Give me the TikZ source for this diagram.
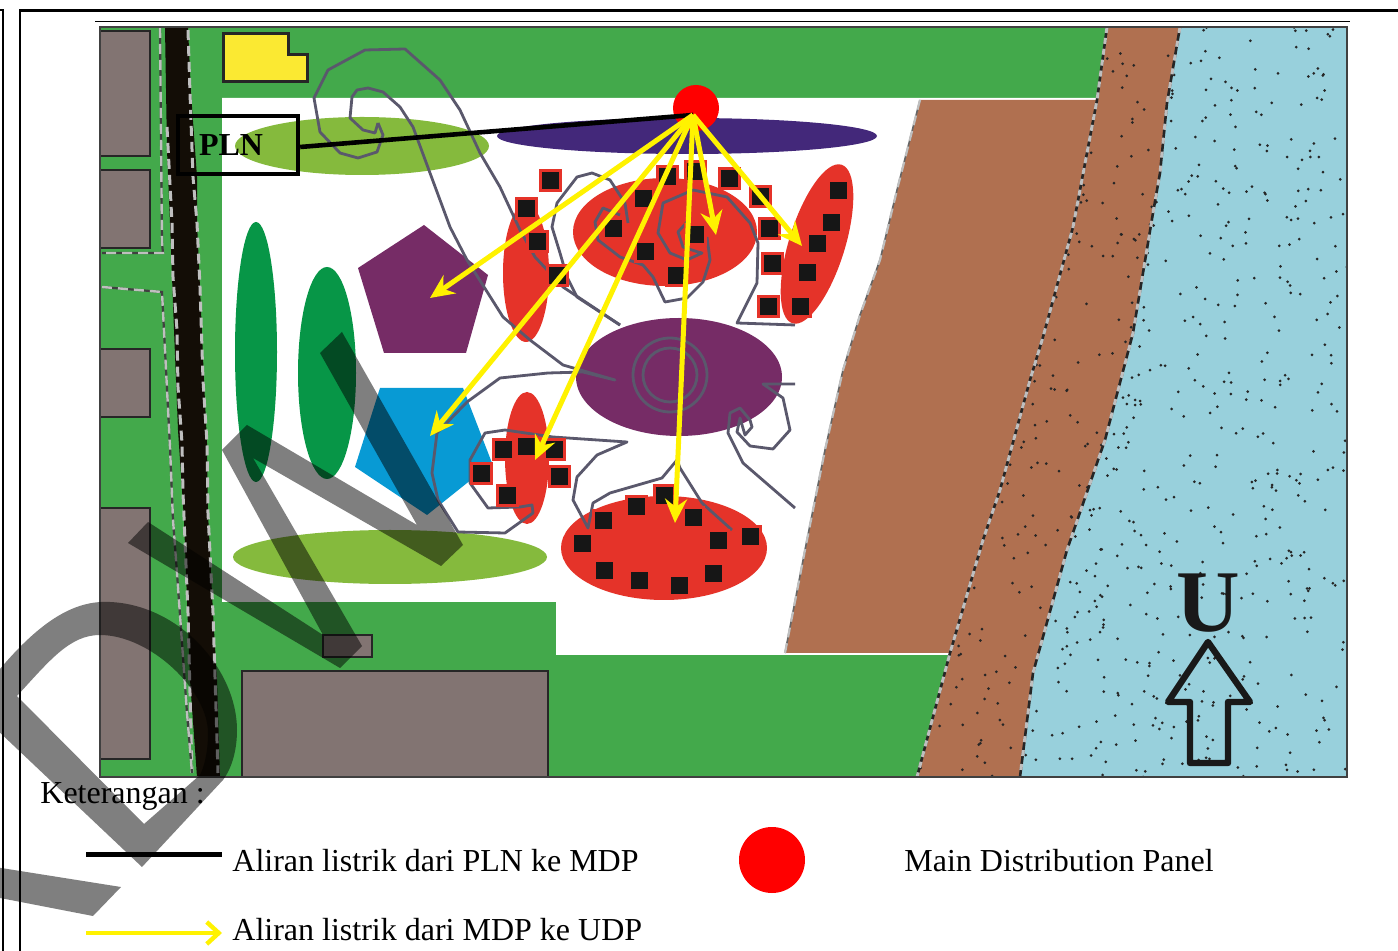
\documentclass[tikz,border=0pt]{standalone}
\usepackage{fontspec}
\setmainfont{Liberation Serif}
\usetikzlibrary{arrows.meta}
\definecolor{grass}{HTML}{43A94B}
\definecolor{lgreen}{HTML}{85BA3D}
\definecolor{dgreen}{HTML}{079647}
\definecolor{bldg}{HTML}{827472}
\definecolor{ylw}{HTML}{FBE932}
\definecolor{purp}{HTML}{762C66}
\definecolor{indigo}{HTML}{43287A}
\definecolor{cyanb}{HTML}{089AD4}
\definecolor{redz}{HTML}{E53329}
\definecolor{soil}{HTML}{B07050}
\definecolor{water}{HTML}{98D0DC}
\definecolor{contour}{HTML}{5A586C}
\definecolor{sq}{HTML}{161616}
\tikzset{
  bld/.style={fill=bldg,draw=black!85,line width=1pt},
  contourline/.style={draw=contour,line width=1.4pt,line join=round},
  yarrow/.style={draw=yellow,line width=2.5pt,-{Stealth[length=12pt,width=11pt,inset=4pt]}},
  udp/.style={fill=sq,draw=redz,line width=1.5pt,minimum size=10pt,inner sep=0pt,rectangle},
  edgeblack/.style={draw=black!85,line width=1.3pt},
  edgegrey/.style={draw=black!25,line width=1.5pt,dash pattern=on 5pt off 3pt},
  legendtext/.style={anchor=base west,inner sep=0pt,font=\fontsize{16}{19}\selectfont},
  wm/.style={fill=black,fill opacity=0.5,even odd rule}
}
\begin{document}
\begin{tikzpicture}[x=0.5pt,y=-0.5pt]
\useasboundingbox (0,0) rectangle (1398,951);
\fill[white] (0,0) rectangle (1398,951);
% frame
\draw[line width=1.4pt] (3,951) -- (3,10) -- (0,10);
\draw[line width=1.4pt] (20,951) -- (20,10.5) -- (1398,10.5);
\draw[line width=0.8pt] (95,21.5) -- (1350,21.5);
% site
\fill[grass] (100,27) rectangle (1110,777);
\fill[white] (222,98) -- (1100,98) -- (950,655) -- (556,655) -- (556,602) -- (222,602) -- cycle;
% brown lot
\fill[soil] (920,100) -- (1096,100) -- (1073,227) -- (1043,337) -- (1030,380) -- (1000,490) -- (983,540) -- (950,653) -- (785,653) -- (805,550) -- (825,450) -- (843,370) -- (860,315) -- (880,260) -- (897,190) -- cycle;
\draw[edgeblack,draw=black!60,line width=0.8pt] (920,100) -- (897,190) -- (880,260) -- (860,315) -- (843,370) -- (825,450) -- (805,550) -- (785,653);
\draw[edgegrey,line width=1.1pt] (920,100) -- (897,190) -- (880,260) -- (860,315) -- (843,370) -- (825,450) -- (805,550) -- (785,653);
% strip and water
\fill[soil] (1107,27) -- (1180,27) -- (1167,103) -- (1160,173) -- (1153,213) -- (1133,333) -- (1105,440) -- (1067,550) -- (1033,673) -- (1020,777) -- (917,777) -- (950,653) -- (983,540) -- (1000,490) -- (1030,380) -- (1043,337) -- (1073,227) -- (1097,100) -- cycle;
\fill[water] (1180,27) -- (1347,27) -- (1347,777) -- (1020,777) -- (1033,673) -- (1067,550) -- (1105,440) -- (1133,333) -- (1153,213) -- (1160,173) -- (1167,103) -- cycle;
\pgfmathsetseed{4711}
\begin{scope}
\clip (1107,27) -- (1180,27) -- (1167,103) -- (1160,173) -- (1153,213) -- (1133,333) -- (1105,440) -- (1067,550) -- (1033,673) -- (1020,777) -- (917,777) -- (950,653) -- (983,540) -- (1000,490) -- (1030,380) -- (1043,337) -- (1073,227) -- (1097,100) -- cycle;
\foreach \i in {1,...,500}{
  \pgfmathsetmacro\xx{910+280*rnd}
  \pgfmathsetmacro\yy{27+750*rnd}
  \fill[black!85] (\xx,\yy) circle[radius=1.5];
}
\end{scope}
\begin{scope}
\clip (1180,27) -- (1347,27) -- (1347,777) -- (1020,777) -- (1033,673) -- (1067,550) -- (1105,440) -- (1133,333) -- (1153,213) -- (1160,173) -- (1167,103) -- cycle;
\foreach \i in {1,...,620}{
  \pgfmathsetmacro\xx{1020+327*rnd}
  \pgfmathsetmacro\yy{27+750*rnd}
  \fill[black!85] (\xx,\yy) circle[radius=1.5];
}
\end{scope}
\draw[edgeblack] (1107,27) -- (1097,100) -- (1073,227) -- (1043,337) -- (1030,380) -- (1000,490) -- (983,540) -- (950,653) -- (917,777);
\draw[edgegrey,dash pattern=on 3pt off 2.5pt] (1107,27) -- (1097,100) -- (1073,227) -- (1043,337) -- (1030,380) -- (1000,490) -- (983,540) -- (950,653) -- (917,777);
\draw[edgeblack] (1180,27) -- (1167,103) -- (1160,173) -- (1153,213) -- (1133,333) -- (1105,440) -- (1067,550) -- (1033,673) -- (1020,777);
\draw[edgegrey,dash pattern=on 3pt off 4pt] (1180,27) -- (1167,103) -- (1160,173) -- (1153,213) -- (1133,333) -- (1105,440) -- (1067,550) -- (1033,673) -- (1020,777);
% road
\fill[black!90!brown] (165,27) -- (188,27) -- (191,93) -- (197,177) -- (197,223) -- (200,287) -- (204,380) -- (207,443) -- (208,513) -- (213,613) -- (217,680) -- (220,777) -- (197,777) -- (190,680) -- (184,520) -- (178,430) -- (174,330) -- (170,223) -- (167,150) -- cycle;
\draw[edgegrey] (188,30) -- (190,93) -- (193,177) -- (197,223) -- (200,287) -- (203,380) -- (207,443) -- (208,513) -- (213,613) -- (218,773);
\draw[edgegrey] (167,127) -- (172,223) -- (173,277) -- (177,330) -- (178,387) -- (182,443) -- (183,493) -- (188,613) -- (192,773);
\draw[edgeblack,draw=black!75,line width=1.1pt] (160,28) -- (162,243) -- (163,253) -- (102,253);
\draw[edgegrey,line width=1.2pt] (160,28) -- (162,243) -- (163,253) -- (102,253);
\draw[edgeblack,draw=black!75,line width=1.1pt] (102,287) -- (162,292) -- (170,447) -- (173,520) -- (177,573) -- (187,713) -- (192,773);
\draw[edgegrey,line width=1.2pt] (102,287) -- (162,292) -- (170,447) -- (173,520) -- (177,573) -- (187,713) -- (192,773);
% buildings
\draw[bld] (100,31) rectangle (150,156);
\draw[bld] (100,170) rectangle (150,248);
\draw[bld] (100,349) rectangle (150,417);
\draw[bld] (100,508) rectangle (150,759);
\draw[bld] (242,671) rectangle (548,777);
\draw[bld] (323,635) rectangle (372,657);
\draw[fill=ylw,draw=black!85,line width=1.5pt] (223,34) -- (288,34) -- (288,55) -- (307,55) -- (307,82) -- (223,82) -- cycle;
% map border
\draw[black!75,line width=0.8pt] (100,27) rectangle (1347,777);
% zones
\fill[lgreen] (362,146) ellipse[x radius=127,y radius=29];
\fill[lgreen] (390,557) ellipse[x radius=157,y radius=27];
\fill[indigo] (687,136) ellipse[x radius=190,y radius=18];
\fill[dgreen] (256,352) ellipse[x radius=21,y radius=130];
\fill[dgreen] (327,373) ellipse[x radius=29,y radius=106];
\fill[purp] (424,225) -- (488,275) -- (466,353) -- (384,353) -- (358,268) -- cycle;
\fill[cyanb] (380,388) -- (463,388) -- (492,463) -- (427,515) -- (355,467) -- cycle;
\fill[purp] (679,377) ellipse[x radius=103,y radius=59];
\fill[redz] (665,232) ellipse[x radius=92,y radius=54];
\fill[redz] (526,273) ellipse[x radius=23,y radius=69];
\fill[redz] (527,458) ellipse[x radius=22,y radius=66];
\fill[redz] (664,548) ellipse[x radius=103,y radius=52];
\begin{scope}[shift={(817,244)},rotate=72.8]
\fill[redz] (0,0) ellipse[x radius=83,y radius=28];
\end{scope}
% contours
\draw[contourline] (378,123) -- (383,135) -- (377,152) -- (358,158) -- (340,153) -- (320,132) -- (314,98) -- (328,70) -- (365,50) -- (405,49) -- (440,80) -- (460,110) -- (480,153) -- (500,187) -- (520,230) -- (535,257) -- (563,287) -- (620,325);
\draw[contourline] (378,123) -- (375,133) -- (363,130) -- (350,118) -- (352,97) -- (357,90) -- (368,88) -- (383,92) -- (400,107) -- (413,127) -- (430,173) -- (450,227) -- (467,260) -- (503,317) -- (530,340) -- (563,365) -- (615,380) -- (583,372) -- (548,373) -- (500,378) -- (467,402) -- (437,433) -- (432,473) -- (438,500) -- (458,532) -- (505,533) -- (533,513) -- (532,505) -- (520,507) -- (488,508) -- (470,483) -- (470,460) -- (485,433) -- (505,430) -- (553,437) -- (627,442) -- (597,455) -- (577,477) -- (573,500) -- (588,528) -- (593,503) -- (610,493) -- (662,478) -- (677,460) -- (680,468) -- (702,503) -- (732,530);
\draw[contourline] (628,223) -- (625,203) -- (610,180) -- (592,173) -- (577,177) -- (557,203) -- (552,227) -- (560,253) -- (567,277) -- (577,297) -- (620,325);
\draw[contourline] (620,215) -- (603,208) -- (595,222) -- (598,240) -- (620,257) -- (643,265) -- (653,277) -- (665,302) -- (687,298) -- (703,282) -- (710,260) -- (707,237);
\draw[contourline] (687,222) -- (678,232) -- (683,247) -- (698,252) -- (702,253) -- (687,260) -- (670,253) -- (658,233) -- (663,203) -- (693,190) -- (727,197) -- (750,223) -- (758,243) -- (757,283) -- (737,323) -- (795,325);
\draw[contourline] (795,384) -- (763,384) -- (783,398) -- (790,430) -- (773,449) -- (750,446) -- (737,432) -- (740,418) -- (745,435) -- (752,427) -- (750,420) -- (740,408) -- (730,413) -- (728,433) -- (743,463) -- (795,508);
\draw[contourline] (670,375) circle[radius=37];
\draw[contourline] (670,375) circle[radius=27];
% UDP squares
\foreach \a/\b in {550/181,526/209,537/242,557/276,613/229,643/199,667/177,695/172,729/179,760/197,695/235,645/252,676/276,769/229,772/264,768/307,800/307,807/273,817/244,831/223,838/191,503/450,526/447,554/450,481/474,559/477,507/496,582/544,603/521,636/507,664/496,693/518,718/541,750/537,604/571,639/581,679/586,713/574}{
  \node[udp] at (\a,\b) {};
}
% north arrow
\node[anchor=base,inner sep=0pt,font=\fontsize{44}{44}\selectfont\bfseries,text=black!90] (north) at (1208,632) {U};
\draw[line width=3.2pt,line join=round,draw=black!90] (1208,642) -- (1250,702) -- (1228,702) -- (1228,763) -- (1190,763) -- (1190,702) -- (1168,702) -- cycle;
% PLN and MDP
\node[circle,fill=red,minimum size=23pt,inner sep=0pt] (mdp) at (696,108) {};
\coordinate (feed) at (693,115);
\node[draw=black,line width=2.2pt,minimum width=60pt,minimum height=29pt,inner sep=0pt,font=\fontsize{16}{19}\selectfont\bfseries] (pln) at (238,145) {\makebox[60pt][l]{\hspace{10.5pt}\raisebox{-1pt}{PLN}}};
\draw[line width=2.3pt] ([yshift=-1pt]pln.east) -- (feed);
\coordinate (u1) at (430,298);
\coordinate (u2) at (430,436);
\coordinate (u3) at (535,460);
\coordinate (u4) at (675,523);
\coordinate (u5) at (716,235);
\coordinate (u6) at (802,246);
\foreach \t in {u1,u2,u3,u4,u5,u6}{
  \draw[yarrow] (feed) -- (\t);
}
% legend
\node[legendtext] (ket) at (40,803) {Keterangan :};
\coordinate (l1a) at (86,854);
\coordinate (l1b) at (222,854);
\draw[line width=2.5pt] (l1a) -- (l1b);
\node[legendtext] (t1) at (232,871) {Aliran listrik dari PLN ke MDP};
\coordinate (l2a) at (86,933);
\coordinate (l2b) at (222,933);
\draw[draw=yellow,line width=2.2pt,-{Straight Barb[length=6pt,width=11pt]}] (l2a) -- (l2b);
\node[legendtext] (t2) at (232,940) {Aliran listrik dari MDP ke UDP};
\node[circle,fill=red,minimum size=33pt,inner sep=0pt] (lmdp) at (772,860) {};
\node[legendtext] (t3) at (904,871) {Main Distribution Panel};
% watermark
\fill[wm] (128,543) -- (148,522) -- (323,635) -- (222,450) -- (247,425) -- (417,525) -- (320,353) -- (342,332) -- (463,545) -- (441,566) -- (253,458) -- (362,646) -- (340,668) -- cycle;
\fill[wm] (-5,675) .. controls (40,620) and (75,600) .. (110,602) .. controls (180,605) and (237,670) .. (237,730) .. controls (237,750) and (232,768) .. (223,780) -- (142,867) -- (-5,728) -- cycle
 (17,696) .. controls (50,660) and (70,635) .. (100,635) .. controls (150,635) and (208,690) .. (208,733) .. controls (208,750) and (205,765) .. (200,775) -- (144,824) -- cycle;
\fill[wm] (-5,867) -- (121,887) -- (93,916) -- (-5,897) -- cycle;
\end{tikzpicture}
\end{document}
